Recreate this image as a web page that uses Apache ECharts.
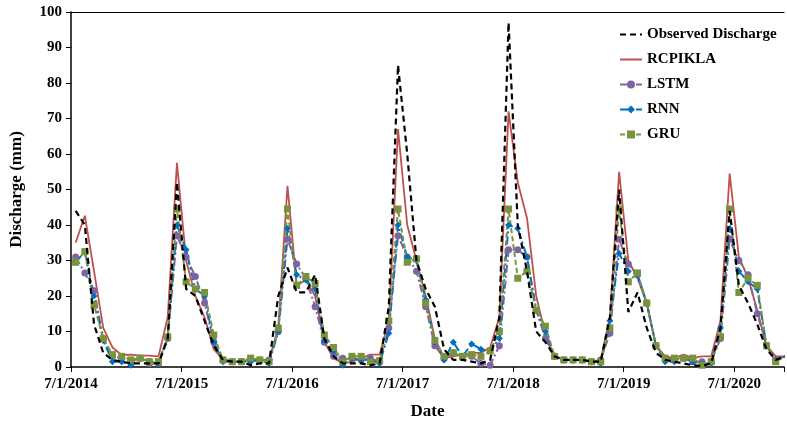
<!DOCTYPE html>
<html><head><meta charset="utf-8">
<script src="https://cdn.jsdelivr.net/npm/echarts@6/dist/echarts.min.js"></script>
<style>html,body{margin:0;padding:0;background:#fff}#c{width:787px;height:425px}</style>
</head><body><div id="c"></div>
<script>
// months since 7/1/2014 (mid-month samples, Jul 2014 .. Dec 2020)
const tickLabels = ['7/1/2014','7/1/2015','7/1/2016','7/1/2017','7/1/2018','7/1/2019','7/1/2020'];
const observed = [44,40,12,4,2,1.5,1,1,1,1,8,52,
 22,20,13,6,2,1.5,1.5,0.5,1,1,20,28,
 21,21,26,8,3,1,1,1,0.5,1,17,85,
 60,30,22,17,5,2,2,1.5,1,2,14,97,
 40,27,10,7,3,2,2,2,1.5,1.5,14,50,
 15.5,21,11,4,2,1.5,1,0.5,0.3,1,11,44,
 23,18,12,5,2,3];
const rcpikla = [35,42.6,27,11,5.5,3.4,3.5,3.2,3.2,3,14,57.5,
 30,20,14,5,2,1.5,1.5,2,2,2,11,51,
 23,24.5,20,7,2.5,1,1.5,2.5,3.5,3.5,13,67,
 40,30,20,8,2.5,3,3.5,4,4,5.5,14,72,
 52,42,20,9,3,2,2,2,1.5,2,14,55,
 30,25,18,6,3,2.5,3.5,2.5,3,3,13,54.5,
 31,25,16,6,3,3];
const lstm = [31,26.5,21.5,8,3,2.5,1.5,2.5,1,1,8,37,
 31,25.5,18,7,2,1.5,1.5,2,2,2,10,36,
 29,25,17,7,3,2.5,2.5,2,2.5,1.5,11,37,
 31,27,17,6,2.5,4,3,3,1,0.5,6,33,
 33,31,16,8,3,2,2,2,1.5,2,9.5,36,
 29,26,18,6,2.5,2,2.5,1.5,1.5,1.5,8,36,
 30,26,15,6,2,3];
const rnn = [29.5,32.5,20,7.5,1.5,1.5,0.5,2.5,1.5,1,8.5,40,
 33,22,20,7,1.5,1.5,1.5,1.5,2,1,10,39,
 26,24.5,22,7.5,4.5,0.5,2.5,2,2,1,9.5,40,
 31,30,19,7,2,7,3,6.5,5,4.5,8,40,
 39,31,16,10,3,2,2,2,1.5,1,13,32,
 27,26,18,6,1.5,1.5,2.5,1.5,1,1,11,39,
 27,24,22,6,2,3];
const gru = [29.5,32.5,17.5,8,3.5,3,2,2.5,1.5,1.5,8.5,44.5,
 24,22,21,9,2,1.5,1.5,2.5,2,1.5,11,44.5,
 23,25.5,23.5,9,5.5,1.5,3,3,1.5,1.8,13,44.5,
 29.5,30.5,18,7.5,3,4,3,3.5,3,4.5,10,44.5,
 25,27,16,11.5,3,2,2,2,1.5,1.5,11,44.5,
 24,26.5,18,6,2.5,2.5,2.5,2.5,0.5,1.5,8.5,44.5,
 21,25,23,6,1.5,3];
const pts = a => a.map((v,i)=>[i+0.5,v]);
const font = 'Liberation Serif';
const chart = echarts.init(document.getElementById('c'));
const mk = (name, data, color, symbol, type, width, size) => ({
  name, type:'line', data:pts(data), symbol, symbolSize:size, showSymbol: symbol!=='none',
  lineStyle:{color, width, type}, itemStyle:{color}, z: name==='Observed Discharge'?10:2
});
chart.setOption({
  animation:false,
  grid:{left:71,right:0,top:12,bottom:56},
  legend:{orient:'vertical',left:614,top:22,itemGap:10,itemWidth:22,itemHeight:10,
    textStyle:{fontFamily:font,fontWeight:'bold',fontSize:15,color:'#000'},
    data:[{name:'Observed Discharge',itemStyle:{opacity:0}},{name:'RCPIKLA',itemStyle:{opacity:0}},'LSTM','RNN','GRU']},
  xAxis:[{type:'value',min:0,max:77.4,interval:12,
    name:'Date',nameLocation:'middle',nameGap:36,
    nameTextStyle:{fontFamily:font,fontWeight:'bold',fontSize:17,color:'#000'},
    axisLine:{lineStyle:{color:'#000',width:1.5}},axisTick:{show:true,length:5,lineStyle:{color:'#000'}},
    splitLine:{show:false},
    axisLabel:{fontFamily:font,fontWeight:'bold',fontSize:15,color:'#000',margin:10,
      formatter:v=>{const k=Math.round(v/12);return (Math.abs(v-k*12)<1e-6&&tickLabels[k])?tickLabels[k]:'';}}},
    {type:'value',position:'top',min:0,max:77.4,axisLine:{show:true,onZero:false,lineStyle:{color:'#000',width:1.2}},
     axisTick:{show:false},axisLabel:{show:false},splitLine:{show:false}}],
  yAxis:{type:'value',min:0,max:100,interval:10,
    name:'Discharge (mm)',nameLocation:'middle',nameGap:46,
    nameTextStyle:{fontFamily:font,fontWeight:'bold',fontSize:17,color:'#000'},
    axisLine:{show:true,lineStyle:{color:'#000',width:1.5}},axisTick:{show:true,length:5,inside:false,lineStyle:{color:'#000'}},
    splitLine:{show:false},
    axisLabel:{fontFamily:font,fontWeight:'bold',fontSize:15,color:'#000',margin:9}},
  series:[
    mk('Observed Discharge',observed,'#000','none',[6,4],2.2,0),
    mk('RCPIKLA',rcpikla,'#C0504D','none','solid',1.8,0),
    mk('LSTM',lstm,'#8064A2','circle',[8,3,2,3],2,7),
    mk('RNN',rnn,'#0070C0','diamond',[8,3,2,3],2,7),
    mk('GRU',gru,'#77933C','rect',[5,3],2,7)
  ]
});
</script></body></html>
